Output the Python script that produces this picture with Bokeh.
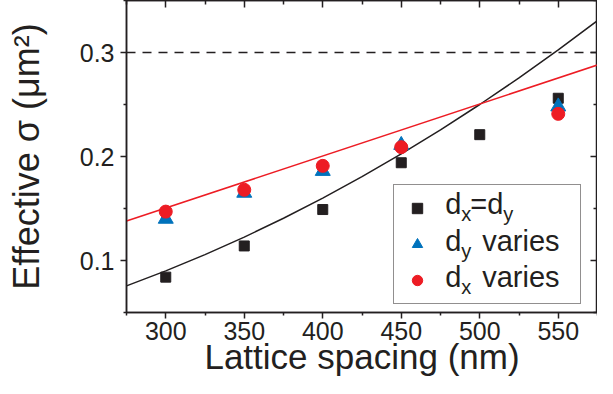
from bokeh.plotting import figure
from bokeh.models import (Range1d, FixedTicker, LinearAxis, Span,
                          Legend, LegendItem, ColumnDataSource)
from bokeh.core.properties import value
from bokeh.embed import file_html
from bokeh.resources import INLINE

# ---------------- data ----------------
spacing_eq = [300, 350, 400, 450, 500, 550]
sigma_eq = [0.084, 0.114, 0.149, 0.194, 0.221, 0.256]

spacing_dy = [300, 350, 400, 450, 550]
sigma_dy = [0.140, 0.165, 0.186, 0.211, 0.248]

spacing_dx = [300, 350, 400, 450, 550]
sigma_dx = [0.147, 0.168, 0.191, 0.209, 0.241]

fit_eq_x = [275, 300, 325, 350, 375, 400, 425, 450, 475, 500, 525, 550, 575]
fit_eq_y = [0.0756, 0.090, 0.1056, 0.1225, 0.1406, 0.160, 0.1806, 0.2025,
            0.2256, 0.250, 0.2756, 0.3025, 0.3306]

fit_dx_x = [275, 575]
fit_dx_y = [0.138, 0.288]

x_ticks = [300, 350, 400, 450, 500, 550]
x_minor = [275, 325, 375, 425, 475, 525, 575]
y_ticks = [0.1, 0.2, 0.3]
y_minor = [0.05, 0.15, 0.25, 0.35]
y_tick_labels = {0.1: "0.1", 0.2: "0.2", 0.3: "0.3"}
limit_sigma = 0.3

BLACK = "#231f20"
BLUE = "#0072bc"
RED = "#ed1c24"
FONT = "Liberation Sans"

p = figure(width=597, height=378, x_range=Range1d(275, 575),
           y_range=Range1d(0.05, 0.35), output_backend="svg",
           toolbar_location=None, min_border_left=126, min_border_right=0,
           min_border_top=0, min_border_bottom=0)
p.xgrid.visible = False
p.ygrid.visible = False
p.outline_line_color = BLACK
p.outline_line_width = 1.5
p.background_fill_color = "white"
p.border_fill_color = "white"


def style_axis(ax, ticks, minor, outward=True, labels=True):
    ax.ticker = FixedTicker(ticks=ticks, minor_ticks=minor)
    ax.axis_line_color = BLACK
    ax.axis_line_width = 1.5
    ax.major_tick_line_color = BLACK
    ax.minor_tick_line_color = BLACK
    ax.major_tick_line_width = 1.5
    ax.minor_tick_line_width = 1.5
    if outward:
        ax.major_tick_out, ax.major_tick_in = 6, 0
        ax.minor_tick_out, ax.minor_tick_in = 3, 0
    else:
        ax.major_tick_out, ax.major_tick_in = 0, 7
        ax.minor_tick_out, ax.minor_tick_in = 0, 4
    if labels:
        ax.major_label_text_font = FONT
        ax.major_label_text_font_size = "25px"
        ax.major_label_text_color = BLACK
        ax.axis_label_text_font = FONT
        ax.axis_label_text_font_style = "normal"
        ax.axis_label_text_color = BLACK
    else:
        ax.major_label_text_color = None
        ax.major_label_text_font_size = "1px"
        ax.major_label_standoff = 0


xa = p.xaxis[0]
style_axis(xa, x_ticks, x_minor)
xa.axis_label = "Lattice spacing (nm)"
xa.axis_label_text_font_size = "35px"
xa.major_label_standoff = 3
xa.axis_label_standoff = -6

ya = p.yaxis[0]
style_axis(ya, y_ticks, y_minor)
ya.axis_label = "Effective σ (μm²)"
ya.axis_label_text_font_size = "36px"
ya.major_label_overrides = y_tick_labels
ya.major_label_standoff = 6
ya.axis_label_standoff = 30

top = LinearAxis()
style_axis(top, x_ticks, x_minor, outward=False, labels=False)
p.add_layout(top, "above")
right = LinearAxis()
style_axis(right, y_ticks, y_minor, outward=False, labels=False)
p.add_layout(right, "right")

p.add_layout(Span(location=limit_sigma, dimension="width", line_color=BLACK,
                  line_width=1.5, line_dash="9 7"))

p.line(fit_eq_x, fit_eq_y, line_color=BLACK, line_width=1.5)
p.line(fit_dx_x, fit_dx_y, line_color=RED, line_width=1.5)

r_sq = p.scatter(spacing_eq, sigma_eq, marker="square", size=10,
                 fill_color=BLACK, line_color=BLACK)
r_tri = p.scatter(spacing_dy, sigma_dy, marker="triangle", size=15,
                  fill_color=BLUE, line_color=BLUE)
r_cir = p.scatter(spacing_dx, sigma_dx, marker="circle", size=13,
                  fill_color=RED, line_color=RED)

legend = Legend(items=[LegendItem(label=" ", renderers=[r_sq]),
                       LegendItem(label=" ", renderers=[r_tri]),
                       LegendItem(label=" ", renderers=[r_cir])],
                location=(267, 8), padding=10, spacing=10,
                glyph_width=26, glyph_height=26, label_height=26,
                label_width=135, label_standoff=5, margin=0,
                border_line_color=BLACK, border_line_width=1.2,
                background_fill_color=None, background_fill_alpha=0.0)
p.add_layout(legend)

# legend texts with subscripts (layout only): text, x offset px,
# y offset px (positive = down), font size
legend_rows = [0.1542, 0.1187, 0.0840]
legend_parts = [
    [("d", 0, 0, 29), ("x", 16, 10, 20), ("=", 25, 0, 29),
     ("d", 42, 0, 29), ("y", 58, 10, 20)],
    [("d", 0, 0, 29), ("y", 16, 10, 20), ("varies", 37, 0, 29)],
    [("d", 0, 0, 29), ("x", 16, 10, 20), ("varies", 37, 0, 29)],
]
lx, ly, lt, ldx, ldy, lfs = [], [], [], [], [], []
for yrow, parts in zip(legend_rows, legend_parts):
    for txt, dx, dy, fs in parts:
        lx.append(478.0)
        ly.append(yrow)
        lt.append(txt)
        ldx.append(dx)
        ldy.append(dy)
        lfs.append(f"{fs}px")
src = ColumnDataSource(dict(x=lx, y=ly, text=lt, dx=ldx, dy=ldy, fs=lfs))
p.text(x="x", y="y", text="text", x_offset="dx", y_offset="dy",
       text_font_size="fs", text_font=value(FONT), text_color=BLACK,
       text_baseline="middle", text_align="left", source=src)

open("out.html", "w").write(file_html(p, INLINE))
